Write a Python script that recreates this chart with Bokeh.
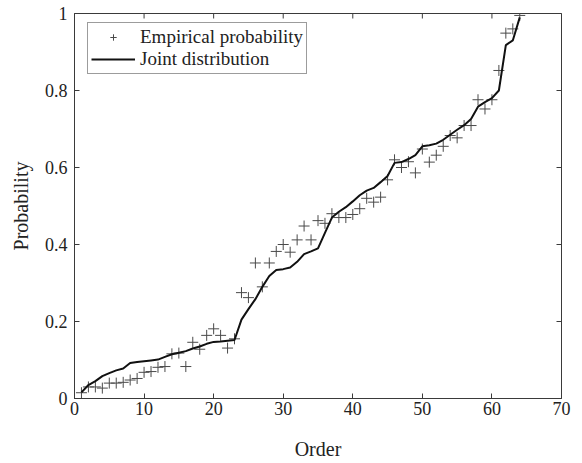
import math
from bokeh.plotting import figure
from bokeh.models import FixedTicker, Range1d, Legend, LegendItem
from bokeh.embed import file_html
from bokeh.resources import INLINE

order = list(range(1, 65))
empirical = [0.015, 0.03, 0.03, 0.027, 0.04, 0.04, 0.042, 0.048, 0.052, 0.068,
             0.07, 0.081, 0.083, 0.116, 0.118, 0.083, 0.146, 0.128, 0.164, 0.181,
             0.164, 0.131, 0.155, 0.275, 0.262, 0.352, 0.29, 0.352, 0.382, 0.40,
             0.38, 0.412, 0.448, 0.412, 0.462, 0.455, 0.48, 0.47, 0.47, 0.478,
             0.493, 0.52, 0.51, 0.523, 0.568, 0.62, 0.60, 0.615, 0.586, 0.648,
             0.614, 0.632, 0.655, 0.683, 0.677, 0.709, 0.709, 0.776, 0.752, 0.776,
             0.852, 0.949, 0.96, 0.995]
joint = [0.016, 0.035, 0.045, 0.058, 0.066, 0.073, 0.078, 0.092, 0.095, 0.097,
         0.099, 0.101, 0.108, 0.115, 0.119, 0.123, 0.13, 0.135, 0.142, 0.147,
         0.148, 0.150, 0.152, 0.205, 0.232, 0.258, 0.29, 0.318, 0.334, 0.336,
         0.34, 0.355, 0.375, 0.382, 0.39, 0.43, 0.47, 0.485, 0.497, 0.512,
         0.528, 0.54, 0.547, 0.562, 0.578, 0.612, 0.614, 0.622, 0.632, 0.655,
         0.658, 0.662, 0.672, 0.685, 0.698, 0.71, 0.726, 0.758, 0.77, 0.78,
         0.80, 0.918, 0.93, 0.99]
x_ticks = [0, 10, 20, 30, 40, 50, 60, 70]
y_ticks = [0, 0.2, 0.4, 0.6, 0.8, 1]
y_tick_labels = {0: "0", 0.2: "0.2", 0.4: "0.4", 0.6: "0.6", 0.8: "0.8", 1: "1"}
x_min, x_max = 0, 70
y_min, y_max = 0, 1

FONT = "Liberation Serif"
AX = "#3a3a3a"
TXT = "#222222"

p = figure(frame_width=487, frame_height=385, output_backend="svg",
           toolbar_location=None, x_range=Range1d(x_min, x_max),
           y_range=Range1d(y_min, y_max),
           min_border_left=74, min_border_right=21, min_border_top=13,
           min_border_bottom=65, background_fill_color="white",
           border_fill_color="white")
p.grid.visible = False
p.outline_line_color = AX
p.outline_line_width = 1

for ax in (p.xaxis[0], p.yaxis[0]):
    ax.axis_line_color = AX
    ax.major_tick_line_color = AX
    ax.major_tick_in = 5
    ax.major_tick_out = 0
    ax.minor_tick_line_color = None
    ax.major_label_text_font = FONT
    ax.major_label_text_font_size = "18px"
    ax.major_label_text_color = TXT
    ax.axis_label_text_font = FONT
    ax.axis_label_text_font_size = "20px"
    ax.axis_label_text_font_style = "normal"
    ax.axis_label_text_color = TXT

p.xaxis[0].ticker = FixedTicker(ticks=x_ticks)
p.yaxis[0].ticker = FixedTicker(ticks=y_ticks)
p.yaxis[0].major_label_overrides = y_tick_labels
p.xaxis[0].axis_label = "Order"
p.yaxis[0].axis_label = "Probability"
p.xaxis[0].major_label_standoff = 3
p.yaxis[0].major_label_standoff = 7
p.xaxis[0].axis_label_standoff = 20
p.yaxis[0].axis_label_standoff = 10

# inward ticks on the top and right edges (half of each dash is clipped by the frame)
p.scatter(x_ticks, [y_max] * len(x_ticks), marker="dash", size=10, angle=math.pi / 2,
          line_color=AX, line_width=1)
p.scatter([x_max] * len(y_ticks), y_ticks, marker="dash", size=10,
          line_color=AX, line_width=1)

pts = p.scatter(order, empirical, marker="cross", size=11, line_color="#4a4a4a",
                line_width=1)
ln = p.line(order, joint, line_color="#111111", line_width=2)

legend = Legend(items=[LegendItem(label="Empirical probability", renderers=[pts]),
                       LegendItem(label="Joint distribution", renderers=[ln])],
                location=(13, 324))
legend.label_text_font = FONT
legend.label_text_font_size = "19px"
legend.label_text_color = TXT
legend.glyph_width = 44
legend.glyph_height = 16
legend.label_height = 16
legend.label_standoff = 5
legend.spacing = 0
legend.padding = 3
legend.margin = 0
legend.border_line_color = AX
legend.border_line_width = 1
legend.background_fill_alpha = 1
p.add_layout(legend, "center")

open("out.html", "w").write(file_html(p, INLINE))
